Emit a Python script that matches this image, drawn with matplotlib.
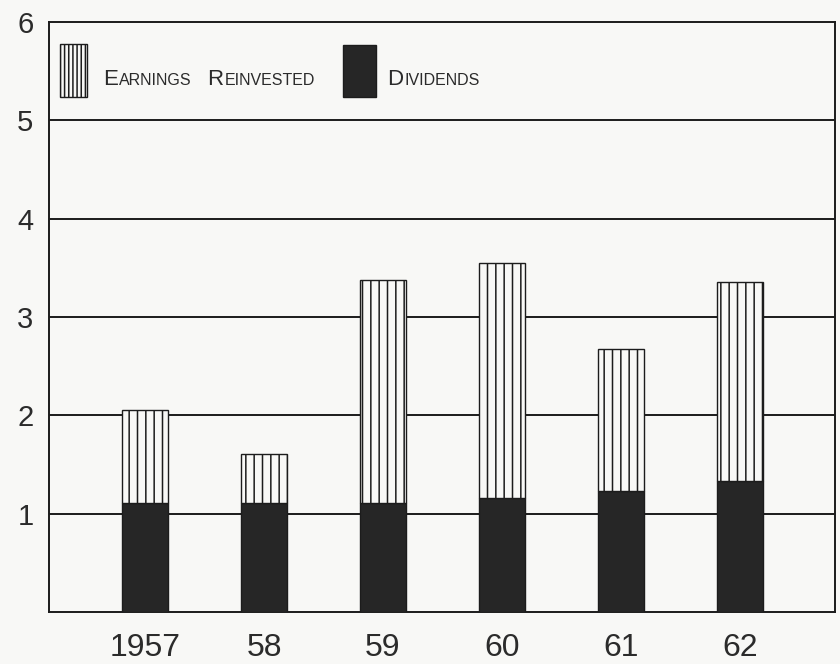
import numpy as np
import matplotlib.pyplot as plt
from matplotlib.patches import Rectangle

# Earnings per share, split into dividends paid and earnings kept in the business
years = ['1957', '58', '59', '60', '61', '62']
dividends = [1.11, 1.11, 1.11, 1.16, 1.23, 1.33]
totals = [2.06, 1.61, 3.38, 3.55, 2.68, 3.36]
reinvested = [t - d for t, d in zip(totals, dividends)]

INK = '#1c1c1c'
TEXT = '#2b2b2b'
PAPER = '#f8f8f6'
FONT = ['Liberation Sans', 'DejaVu Sans']

plt.rcParams['hatch.linewidth'] = 1.1
plt.rcParams['hatch.color'] = INK

fig = plt.figure(figsize=(8.4, 6.64), dpi=100, facecolor=PAPER)
ax = fig.add_axes([0.058, 0.078, 0.936, 0.889], facecolor=PAPER)

x = np.arange(len(years))
w = 0.39
ax.bar(x, dividends, w, color='#262626', edgecolor=INK, linewidth=1.0, zorder=3)
ax.bar(x, reinvested, w, bottom=dividends, color=PAPER, edgecolor=INK,
       linewidth=1.0, hatch='||', zorder=3)

ax.set_xlim(-0.81, 5.8)
ax.set_ylim(0, 6)
ax.set_yticks(range(1, 7))
ax.set_yticklabels([str(i) for i in range(1, 7)], fontsize=21, color=TEXT,
                   family=FONT)
ax.set_xticks(x)
ax.set_xticklabels(years, fontsize=23, color=TEXT, family=FONT)
ax.tick_params(length=0)
ax.tick_params(axis='y', pad=11)
ax.tick_params(axis='x', pad=15)
for y in range(1, 6):
    ax.axhline(y, color=INK, linewidth=1.4, zorder=1)
for s in ax.spines.values():
    s.set_color(INK)
    s.set_linewidth(1.4)

# legend swatches, drawn in figure pixels
def box(x0, y0, x1, y1, **kw):
    fig.patches.append(Rectangle((x0 / 840, 1 - y1 / 664), (x1 - x0) / 840,
                                 (y1 - y0) / 664, transform=fig.transFigure,
                                 edgecolor=INK, linewidth=1.0, **kw))

box(60, 44, 87, 97, facecolor=PAPER, hatch='||||')
box(343, 45, 376, 97, facecolor='#262626')

renderer = fig.canvas.get_renderer()

def small_caps(px, py, label, big=16, small=11.5):
    # large first letter, smaller capitals for the rest of each word
    for word in label.split():
        for part, size in ((word[0], big), (word[1:].upper(), small)):
            t = fig.text(px / 840, 1 - py / 664, part, fontsize=size,
                         color=TEXT, va='baseline', family=FONT)
            px = t.get_window_extent(renderer).x1 + 1.5
        px += 14

small_caps(103, 85, 'Earnings Reinvested')
small_caps(387, 85, 'Dividends')

fig.savefig('out.png', dpi=100, facecolor=PAPER)
